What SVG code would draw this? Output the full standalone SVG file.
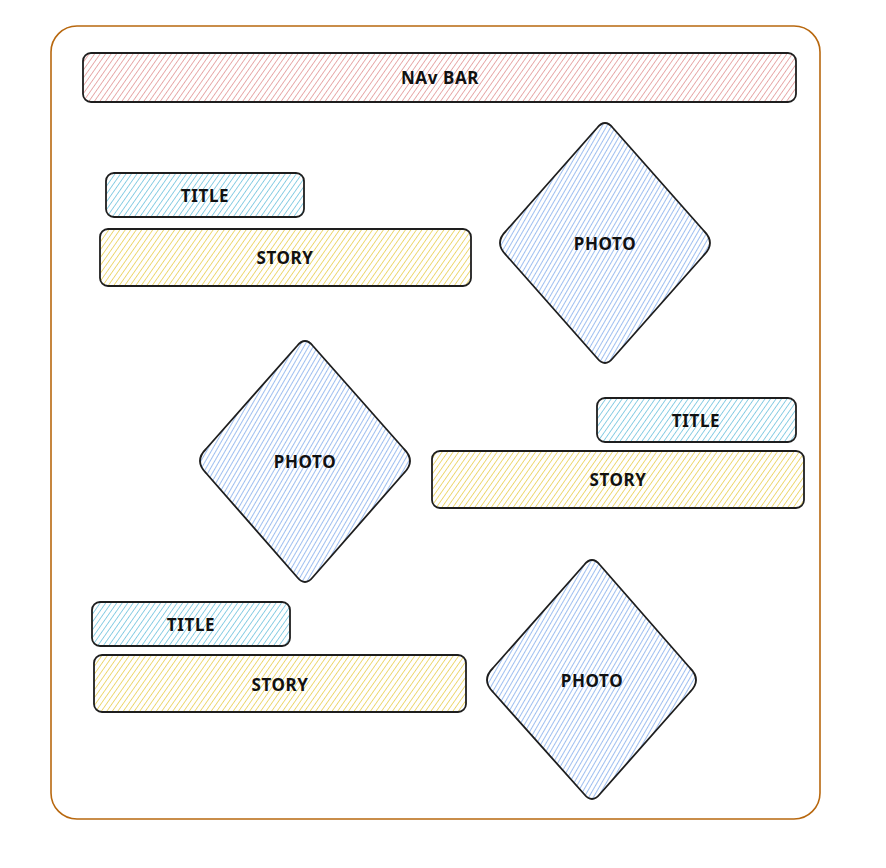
<svg xmlns="http://www.w3.org/2000/svg" width="886" height="868" viewBox="0 0 886 868">
<defs>
<pattern id="hRed" width="4.5" height="4.5" patternUnits="userSpaceOnUse" patternTransform="rotate(35)"><line x1="0" y1="0" x2="0" y2="4.5" stroke="#e6a6a6" stroke-width="1.8"/></pattern>
<pattern id="hCyan" width="4.5" height="4.5" patternUnits="userSpaceOnUse" patternTransform="rotate(35)"><line x1="0" y1="0" x2="0" y2="4.5" stroke="#84cbe2" stroke-width="1.8"/></pattern>
<pattern id="hYellow" width="4.5" height="4.5" patternUnits="userSpaceOnUse" patternTransform="rotate(35)"><line x1="0" y1="0" x2="0" y2="4.5" stroke="#ecd66c" stroke-width="1.8"/></pattern>
<pattern id="hBlue" width="4" height="4" patternUnits="userSpaceOnUse" patternTransform="rotate(30)"><line x1="0" y1="0" x2="0" y2="4" stroke="#8eb3ee" stroke-width="1.7"/></pattern>
</defs>
<style>
.box{stroke:#1e1e1e;stroke-width:1.8}
.lbl{font-family:"Noto Sans","Liberation Sans",sans-serif;font-weight:700;font-size:17px;fill:#111111;text-anchor:middle;dominant-baseline:central;letter-spacing:0.6px}
</style>
<rect width="886" height="868" fill="#ffffff"/>
<g id="frame"><rect x="51" y="26" width="769" height="793" rx="26" fill="none" stroke="#b8680f" stroke-width="1.6"/></g>
<g id="navbar"><rect class="box" x="83" y="53" width="713" height="49" rx="8" fill="url(#hRed)"/><text class="lbl" x="440" y="77">NAv BAR</text></g>
<g id="title1"><rect class="box" x="106" y="173" width="198" height="44" rx="8" fill="url(#hCyan)"/><text class="lbl" x="205" y="195">TITLE</text></g>
<g id="story1"><rect class="box" x="100" y="229" width="371" height="57" rx="8" fill="url(#hYellow)"/><text class="lbl" x="285" y="257">STORY</text></g>
<g id="photo1"><path class="box" fill="url(#hBlue)" d="M597,128 Q605,118 613,128 L704,231 Q716,243 704,255 L613,358 Q605,368 597,358 L506,255 Q494,243 506,231 Z"/><text class="lbl" x="605" y="243">PHOTO</text></g>
<g id="photo2"><path class="box" fill="url(#hBlue)" d="M297,346 Q305,336 313,346 L404,449 Q416,461 404,473 L313,577 Q305,587 297,577 L206,473 Q194,461 206,449 Z"/><text class="lbl" x="305" y="461">PHOTO</text></g>
<g id="title2"><rect class="box" x="597" y="398" width="199" height="44" rx="8" fill="url(#hCyan)"/><text class="lbl" x="696" y="420">TITLE</text></g>
<g id="story2"><rect class="box" x="432" y="451" width="372" height="57" rx="8" fill="url(#hYellow)"/><text class="lbl" x="618" y="479">STORY</text></g>
<g id="title3"><rect class="box" x="92" y="602" width="198" height="44" rx="8" fill="url(#hCyan)"/><text class="lbl" x="191" y="624">TITLE</text></g>
<g id="story3"><rect class="box" x="94" y="655" width="372" height="57" rx="8" fill="url(#hYellow)"/><text class="lbl" x="280" y="684">STORY</text></g>
<g id="photo3"><path class="box" fill="url(#hBlue)" d="M584,565 Q592,555 600,565 L690,668 Q702,680 690,692 L600,794 Q592,804 584,794 L493,692 Q481,680 493,668 Z"/><text class="lbl" x="592" y="680">PHOTO</text></g>
<g id="connectors"></g>
</svg>
